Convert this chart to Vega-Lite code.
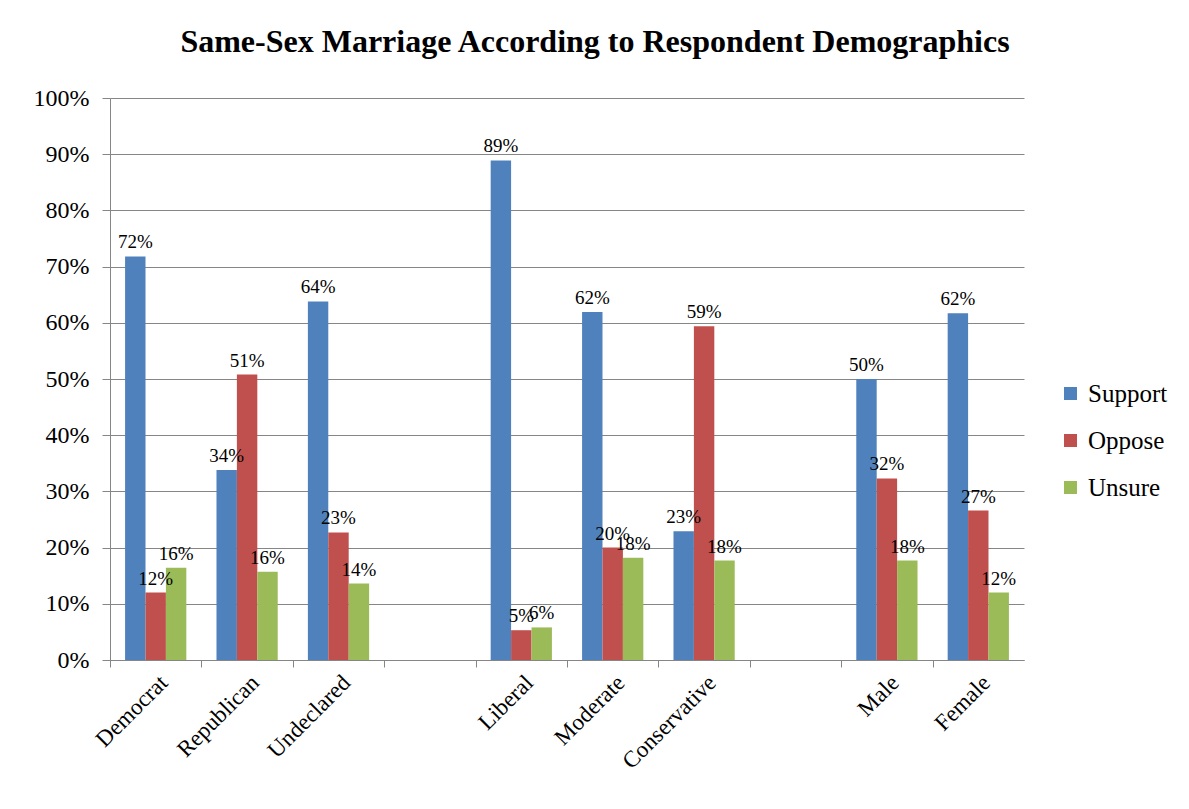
{
  "$schema": "https://vega.github.io/schema/vega-lite/v6.json",
  "width": 914,
  "height": 562,
  "autosize": {"type": "none"},
  "padding": {"left": 110, "top": 98, "right": 165, "bottom": 149},
  "background": "white",
  "title": {
    "text": "Same-Sex Marriage According to Respondent Demographics",
    "anchor": "middle",
    "dx": 28,
    "offset": 27,
    "font": "Liberation Serif",
    "fontSize": 32,
    "fontWeight": "bold",
    "color": "black"
  },
  "data": {
    "values": [
      {"group": "Democrat", "series": "Support", "value": 0.718},
      {"group": "Democrat", "series": "Oppose", "value": 0.120},
      {"group": "Democrat", "series": "Unsure", "value": 0.164},
      {"group": "Republican", "series": "Support", "value": 0.338},
      {"group": "Republican", "series": "Oppose", "value": 0.508},
      {"group": "Republican", "series": "Unsure", "value": 0.157},
      {"group": "Undeclared", "series": "Support", "value": 0.638},
      {"group": "Undeclared", "series": "Oppose", "value": 0.227},
      {"group": "Undeclared", "series": "Unsure", "value": 0.136},
      {"group": "Liberal", "series": "Support", "value": 0.889},
      {"group": "Liberal", "series": "Oppose", "value": 0.053},
      {"group": "Liberal", "series": "Unsure", "value": 0.058},
      {"group": "Moderate", "series": "Support", "value": 0.619},
      {"group": "Moderate", "series": "Oppose", "value": 0.200},
      {"group": "Moderate", "series": "Unsure", "value": 0.182},
      {"group": "Conservative", "series": "Support", "value": 0.229},
      {"group": "Conservative", "series": "Oppose", "value": 0.594},
      {"group": "Conservative", "series": "Unsure", "value": 0.177},
      {"group": "Male", "series": "Support", "value": 0.500},
      {"group": "Male", "series": "Oppose", "value": 0.323},
      {"group": "Male", "series": "Unsure", "value": 0.177},
      {"group": "Female", "series": "Support", "value": 0.617},
      {"group": "Female", "series": "Oppose", "value": 0.266},
      {"group": "Female", "series": "Unsure", "value": 0.120}
    ]
  },
  "encoding": {
    "x": {
      "field": "group",
      "type": "nominal",
      "scale": {
        "domain": ["Democrat", "Republican", "Undeclared", "gap1", "Liberal", "Moderate", "Conservative", "gap2", "Male", "Female"],
        "paddingInner": 0.33,
        "paddingOuter": 0.165
      },
      "axis": {
        "title": null,
        "labelExpr": "indexof(datum.value, 'gap') === 0 ? '' : datum.value",
        "labelAngle": -45,
        "labelAlign": "right",
        "labelBaseline": "top",
        "labelFont": "Liberation Serif",
        "labelFontSize": 23,
        "labelColor": "black",
        "labelPadding": 4,
        "tickOffset": -45.7,
        "labelOffset": 45.7,
        "tickSize": 7,
        "tickColor": "#868686",
        "domainColor": "#868686",
        "grid": false
      }
    },
    "xOffset": {
      "field": "series",
      "type": "nominal",
      "scale": {"domain": ["Support", "Oppose", "Unsure"], "paddingInner": 0}
    },
    "y": {
      "field": "value",
      "type": "quantitative",
      "scale": {"domain": [0, 1]},
      "axis": {
        "title": null,
        "format": ".0%",
        "values": [0, 0.1, 0.2, 0.3, 0.4, 0.5, 0.6, 0.7, 0.8, 0.9, 1],
        "labelFont": "Liberation Serif",
        "labelFontSize": 24,
        "labelColor": "black",
        "labelPadding": 13,
        "tickSize": 8,
        "tickColor": "#868686",
        "domainColor": "#868686",
        "gridColor": "#868686",
        "grid": true
      }
    }
  },
  "layer": [
    {
      "mark": {"type": "bar"},
      "encoding": {
        "color": {
          "field": "series",
          "type": "nominal",
          "scale": {"domain": ["Support", "Oppose", "Unsure"], "range": ["#4F81BD", "#C0504D", "#9BBB59"]},
          "legend": {
            "title": null,
            "orient": "none",
            "legendX": 948,
            "legendY": 283,
            "symbolType": "square",
            "symbolSize": 169,
            "labelFont": "Liberation Serif",
            "labelFontSize": 25,
            "labelColor": "black",
            "labelOffset": 5,
            "rowPadding": 21
          }
        }
      }
    },
    {
      "mark": {"type": "text", "baseline": "bottom", "dy": -4, "font": "Liberation Serif", "fontSize": 19, "color": "black"},
      "encoding": {
        "text": {"field": "value", "type": "quantitative", "format": ".0%"}
      }
    }
  ],
  "config": {
    "font": "Liberation Serif",
    "view": {"stroke": null}
  }
}
